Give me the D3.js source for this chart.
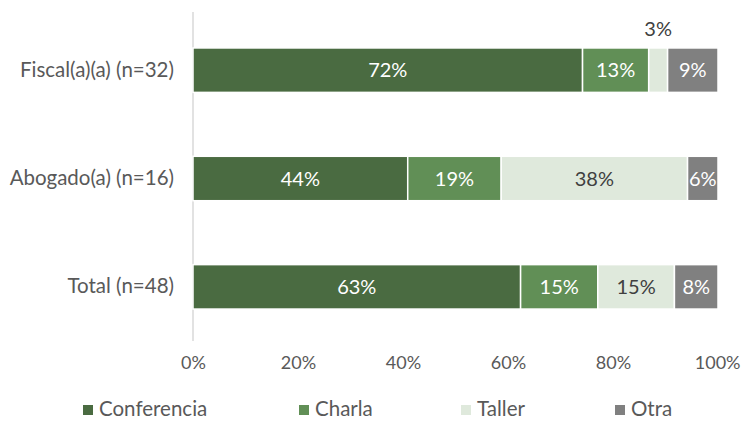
<!DOCTYPE html>
<html><head><meta charset="utf-8">
<script src="https://cdn.jsdelivr.net/npm/d3@7"></script>
<style>body{margin:0;background:#fff;}svg{display:block;font-family:Lato, "Open Sans", sans-serif;}</style>
</head><body><svg id="c" width="742" height="421"></svg>
<script>
const categories = ["Fiscal(a)(a) (n=32)", "Abogado(a) (n=16)", "Total (n=48)"];
const seriesNames = ["Conferencia", "Charla", "Taller", "Otra"];
const conferencia = [74.2, 40.9, 62.4];
const charla = [12.6, 17.8, 14.7];
const taller = [3.6, 35.5, 14.6];
const otra = [9.6, 5.8, 8.3];
const labConferencia = ["72%", "44%", "63%"];
const labCharla = ["13%", "19%", "15%"];
const labTaller = ["3%", "38%", "15%"];
const labOtra = ["9%", "6%", "8%"];
const ticks = [0, 20, 40, 60, 80, 100];
const colors = ["#4a6b41", "#618f56", "#dfe9dc", "#808080"];
const labelColors = ["#ffffff", "#ffffff", "#404040", "#ffffff"];

const seriesVals = [conferencia, charla, taller, otra];
const seriesLabs = [labConferencia, labCharla, labTaller, labOtra];
const svg = d3.select("#c");
const x = d3.scaleLinear().domain([0, 100]).range([193, 718]);
const y = d3.scaleBand().domain(categories).range([16, 341]).paddingInner(0.59).paddingOuter(0.295);

// axis line
svg.append("line").attr("x1", x(0)).attr("x2", x(0)).attr("y1", 12).attr("y2", 341)
  .attr("stroke", "#d9d9d9").attr("stroke-width", 1.5);

// x axis tick labels
const xAxis = d3.axisBottom(x).tickValues(ticks).tickFormat(d => d + "%").tickSize(0).tickPadding(0);
const gx = svg.append("g").attr("transform", "translate(0,356)").call(xAxis);
gx.select(".domain").remove();
gx.selectAll("text").attr("fill", "#595959").style("font-size", "18px").style("font-family", "Lato, 'Open Sans', sans-serif")
  .attr("text-anchor", d => d === 100 ? "end" : "middle")
  .attr("dx", d => d === 100 ? "22px" : 0);

// y axis labels
const yAxis = d3.axisLeft(y).tickSize(0).tickPadding(19);
const gy = svg.append("g").attr("transform", `translate(${x(0)},0)`).call(yAxis);
gy.select(".domain").remove();
gy.selectAll("text").attr("fill", "#595959").style("font-size", "20.5px").style("font-family", "Lato, 'Open Sans', sans-serif");

// stacked data
const rows = categories.map((c, i) => {
  const r = {cat: c};
  seriesNames.forEach((s, j) => r[s] = seriesVals[j][i]);
  return r;
});
const stack = d3.stack().keys(seriesNames)(rows);

stack.forEach((layer, j) => {
  const g = svg.append("g");
  g.selectAll("rect").data(layer).join("rect")
    .attr("x", d => x(d[0]))
    .attr("width", d => x(d[1]) - x(d[0]))
    .attr("y", d => y(d.data.cat))
    .attr("height", y.bandwidth())
    .attr("fill", colors[j])
    .attr("stroke", "#ffffff").attr("stroke-width", 1.5);
  g.selectAll("text").data(layer).join("text")
    .attr("x", d => (x(d[0]) + x(d[1])) / 2)
    .attr("y", (d, i) => {
      const small = (d[1] - d[0]) < 5 && j === 2;
      return small ? y(d.data.cat) - 19 : y(d.data.cat) + y.bandwidth() / 2;
    })
    .attr("dy", "0.36em")
    .attr("text-anchor", "middle")
    .attr("fill", (d) => ((d[1] - d[0]) < 5 && j === 2) ? "#404040" : labelColors[j])
    .style("font-size", "20px")
    .text((d, i) => seriesLabs[j][i]);
});

// legend
const legX = [83, 299, 461, 615];
const leg = svg.append("g");
seriesNames.forEach((s, j) => {
  leg.append("rect").attr("x", legX[j]).attr("y", 405).attr("width", 10).attr("height", 10).attr("fill", colors[j]);
  leg.append("text").attr("x", legX[j] + 16).attr("y", 409).attr("dy", "0.36em")
    .attr("fill", "#595959").style("font-size", "20.5px").text(s);
});
</script></body></html>
